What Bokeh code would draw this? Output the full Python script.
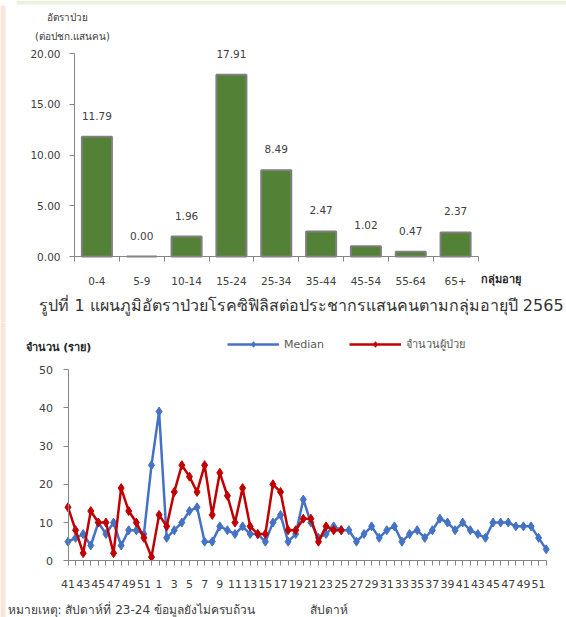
from bokeh.plotting import figure
from bokeh.models import (ColumnDataSource, FixedTicker, NumeralTickFormatter, Label,
                          Legend, LegendItem, Range1d, BoxAnnotation)
from bokeh.layouts import column
from bokeh.embed import file_html
from bokeh.resources import INLINE
from bokeh.core.properties import value

# ---------------- data ----------------
age_groups = ["0-4", "5-9", "10-14", "15-24", "25-34", "35-44", "45-54", "55-64", "65+"]
rates = [11.79, 0.00, 1.96, 17.91, 8.49, 2.47, 1.02, 0.47, 2.37]
rate_ticks = [0, 5, 10, 15, 20]

week_labels = [str(w) for w in range(41, 53)] + [str(w) for w in range(1, 53)]
median = [5, 6, 7, 4, 10, 7, 10, 4, 8, 8, 7, 25,
          39, 6, 8, 10, 13, 14, 5, 5, 9, 8, 7, 9, 7, 7, 5, 10, 12, 5, 7, 16,
          10, 6, 7, 9, 8, 8, 5, 7, 9, 6, 8, 9, 5, 7, 8, 6, 8, 11, 10, 8,
          10, 8, 7, 6, 10, 10, 10, 9, 9, 9, 6, 3]
cases = [14, 8, 2, 13, 10, 10, 2, 19, 13, 10, 6, 1,
         12, 9, 18, 25, 22, 18, 25, 12, 23, 17, 10, 19, 9, 7, 7, 20, 18, 8, 8,
         11, 11, 5, 9, 8, 8]
case_ticks = [0, 10, 20, 30, 40, 50]

FONT = "DejaVu Sans"
TXT = "#404040"
AX = "#868686"
W = 566
H1, H2 = 322, 295


class Mapper:
    """page-pixel <-> data conversion for a figure whose frame fills the canvas"""
    def __init__(self, top, x0_px, x_per, y0_px, y_per, height):
        self.top, self.x0, self.xp, self.y0, self.yp, self.h = top, x0_px, x_per, y0_px, y_per, height

    def x(self, px):
        return (px - self.x0) / self.xp

    def y(self, py):
        return (self.y0 - py) / self.yp

    def ranges(self):
        return (Range1d(self.x(0), self.x(W)),
                Range1d(self.y(self.top + self.h), self.y(self.top)))


def make_fig(m, h):
    xr, yr = m.ranges()
    p = figure(frame_width=W, frame_height=h, x_range=xr, y_range=yr,
               output_backend="svg", toolbar_location=None)
    p.min_border = 0
    p.min_border_left = p.min_border_right = p.min_border_top = p.min_border_bottom = 0
    p.outline_line_color = None
    p.grid.visible = False
    return p


def strip(p, m, x0, x1, y0, y1, color):
    p.add_layout(BoxAnnotation(left=m.x(x0), right=m.x(x1), top=m.y(y0), bottom=m.y(y1),
                               fill_color=color, fill_alpha=1, line_color=None,
                               level="underlay"))


def lab(p, m, px, py, text, size, align="center", bold=False, color=TXT):
    p.add_layout(Label(x=m.x(px), y=m.y(py), text=text, text_align=align,
                       text_baseline="middle", text_font=FONT, text_font_size=size,
                       text_color=color, text_font_style="bold" if bold else "normal"))


def style_axis(ax, size):
    ax.axis_line_color = AX
    ax.major_tick_line_color = AX
    ax.major_label_text_font = FONT
    ax.major_label_text_font_size = size
    ax.major_label_text_color = TXT


PEACH, GREEN = "#FCE4D6", "#EAF1DD"

# ---------------- bar chart ----------------
m1 = Mapper(0, 74, 403.5 / len(age_groups), 256, 203 / 20, H1)
p1 = make_fig(m1, H1)
strip(p1, m1, 0, 5, 5, H1 + 3, PEACH)
strip(p1, m1, 16, W, 0, 4, GREEN)

centers = [i + 0.5 for i in range(len(age_groups))]
src1 = ColumnDataSource(dict(x=centers, top=rates, label=[f"{r:.2f}" for r in rates]))
p1.vbar(x="x", top="top", bottom=0, width=0.67, source=src1,
        fill_color="#538135", line_color="#7f7f7f", line_width=2)
p1.text(x="x", y="top", text="label", source=src1, text_align="center",
        text_baseline="middle", y_offset=-21, text_font=value(FONT),
        text_font_size="10.5px", text_color=TXT)

ya = p1.yaxis[0]
ya.fixed_location = 0
ya.bounds = (0, 20)
ya.ticker = FixedTicker(ticks=rate_ticks)
ya.formatter = NumeralTickFormatter(format="0.00")
ya.major_tick_out = 5
ya.major_tick_in = 0
ya.minor_tick_line_color = None
ya.major_label_standoff = 9
style_axis(ya, "10.5px")

xa = p1.xaxis[0]
xa.fixed_location = 0
xa.bounds = (0, len(age_groups))
xa.ticker = FixedTicker(ticks=centers, minor_ticks=list(range(len(age_groups) + 1)))
xa.major_label_overrides = {c: g for c, g in zip(centers, age_groups)}
xa.major_tick_out = 0
xa.major_tick_in = 0
xa.minor_tick_out = 5
xa.minor_tick_in = 0
xa.minor_tick_line_color = AX
xa.major_label_standoff = 15
style_axis(xa, "10.5px")

lab(p1, m1, 67, 17, "อัตราป่วย", "10px")
lab(p1, m1, 72, 36, "(ต่อปชก.แสนคน)", "10px")
lab(p1, m1, 480, 279, "กลุ่มอายุ", "11px", align="left", bold=True, color="#262626")
lab(p1, m1, 301, 305, "รูปที่ 1 แผนภูมิอัตราป่วยโรคซิฟิลิสต่อประชากรแสนคนตามกลุ่มอายุปี 2565",
    "16px", color="#333333")

# ---------------- line chart ----------------
n = len(week_labels)
m2 = Mapper(H1, 67.5, (545.7 - 67.5) / (n - 1), 560.3, (560.3 - 369) / 50, H2)
p2 = make_fig(m2, H2)
strip(p2, m2, 0, 5, H1 - 3, H1 + H2 + 3, PEACH)

xm = list(range(n))
xc = list(range(len(cases)))
BLUE, RED = "#4472C4", "#C00000"
lm = p2.line(xm, median, line_color=BLUE, line_width=2.5)
sm = p2.scatter(xm, median, marker="diamond", size=9, color=BLUE)
lc = p2.line(xc, cases, line_color=RED, line_width=2.5)
sc = p2.scatter(xc, cases, marker="diamond", size=9, color=RED)

ya2 = p2.yaxis[0]
ya2.fixed_location = 0
ya2.bounds = (0, 50)
ya2.ticker = FixedTicker(ticks=case_ticks)
ya2.major_label_standoff = 10
xa2 = p2.xaxis[0]
xa2.fixed_location = 0
xa2.bounds = (0, n - 1)
xa2.ticker = FixedTicker(ticks=xm)
xa2.major_label_overrides = {i: (w if i % 2 == 0 else "") for i, w in enumerate(week_labels)}
xa2.major_label_standoff = 14
for ax in (xa2, ya2):
    ax.major_tick_out = 5
    ax.major_tick_in = 0
    ax.minor_tick_line_color = None
    style_axis(ax, "11px")

legend = Legend(items=[LegendItem(label="Median", renderers=[lm, sm]),
                       LegendItem(label="จำนวนผู้ป่วย", renderers=[lc, sc])],
                orientation="horizontal", location=(227, H2 - (346 + 7 - H1)),
                glyph_width=52, glyph_height=14, label_height=14, label_standoff=5,
                spacing=25, padding=0, margin=0, border_line_color=None,
                background_fill_alpha=0, label_text_font=FONT,
                label_text_font_size="11px", label_text_color="#595959")
p2.add_layout(legend, "center")

lab(p2, m2, 25, 347, "จำนวน (ราย)", "11px", align="left", bold=True, color="#262626")
lab(p2, m2, 7, 609, "หมายเหตุ: สัปดาห์ที่ 23-24 ข้อมูลยังไม่ครบถ้วน", "12px", align="left")
lab(p2, m2, 328, 609, "สัปดาห์", "12px")

layout = column(p1, p2, spacing=0)
open("out.html", "w").write(file_html(layout, INLINE))
